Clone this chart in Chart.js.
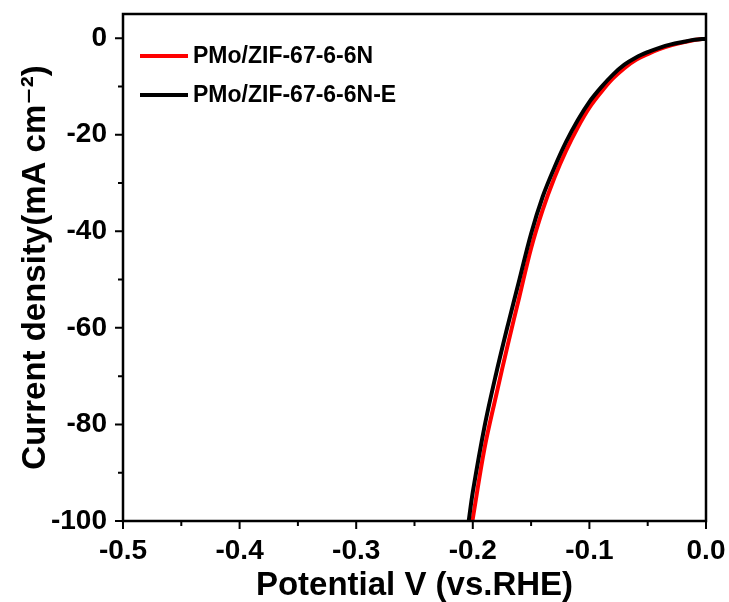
<!DOCTYPE html>
<html>
<head>
<meta charset="utf-8">
<script src="https://cdn.jsdelivr.net/npm/chart.js@4.4.1/dist/chart.umd.min.js"></script>
<style>
  html, body { margin: 0; padding: 0; background: #fff; }
</style>
</head>
<body>
<canvas id="lsvChart" width="729" height="602"></canvas>
<script>
// LSV curves, potential (V vs RHE) and current density (mA cm-2)
var potential = [0, -0.01, -0.02, -0.03, -0.04, -0.05, -0.06, -0.07, -0.08, -0.09, -0.10,
  -0.11, -0.12, -0.13, -0.14, -0.15, -0.16, -0.17, -0.18, -0.19, -0.20];
var currentN = [-0.1, -0.4, -0.9, -1.5, -2.3, -3.3, -4.5, -6.2, -8.4, -11.2, -14.4,
  -18.5, -23.3, -28.9, -35.5, -43.5, -53.5, -63.5, -74, -85, -99.5];
var currentNE = [-0.1, -0.35, -0.8, -1.3, -2.0, -2.9, -4.0, -5.5, -7.6, -10.2, -13.2,
  -17.0, -21.5, -26.8, -32.8, -40.5, -50, -59.5, -69.5, -80.5, -94];
// last points, where each curve leaves the plot at -100
var endN = [-0.2004, -100];
var endNE = [-0.2035, -100];

var labels = ["PMo/ZIF-67-6-6N", "PMo/ZIF-67-6-6N-E"];
var colors = ["#ff0000", "#000000"];

var xMajor = [-0.5, -0.4, -0.3, -0.2, -0.1, 0.0];
var xMinor = [-0.45, -0.35, -0.25, -0.15, -0.05];
var yMajor = [0, -20, -40, -60, -80, -100];
var yMinor = [-10, -30, -50, -70, -90];

var FONT = "'Liberation Sans', Arial, 'DejaVu Sans', sans-serif";

function points(xs, ys, end) {
  var out = xs.map(function (x, i) { return { x: x, y: ys[i] }; });
  out.push({ x: end[0], y: end[1] });
  return out;
}

var frameTicks = {
  id: "frameTicks",
  afterDraw: function (chart) {
    var c = chart.ctx, a = chart.chartArea;
    var xs = chart.scales.x, ys = chart.scales.y;
    c.save();
    c.strokeStyle = "#000";
    c.lineWidth = 2.5;
    c.strokeRect(a.left, a.top, a.right - a.left, a.bottom - a.top);
    c.lineWidth = 2;
    c.beginPath();
    xMajor.forEach(function (v) { var p = xs.getPixelForValue(v); c.moveTo(p, a.bottom); c.lineTo(p, a.bottom + 8); });
    xMinor.forEach(function (v) { var p = xs.getPixelForValue(v); c.moveTo(p, a.bottom); c.lineTo(p, a.bottom + 5); });
    yMajor.forEach(function (v) { var p = ys.getPixelForValue(v); c.moveTo(a.left, p); c.lineTo(a.left - 8, p); });
    yMinor.forEach(function (v) { var p = ys.getPixelForValue(v); c.moveTo(a.left, p); c.lineTo(a.left - 5, p); });
    c.stroke();

    // legend in the top-left corner of the plot
    c.font = "bold 23px " + FONT;
    c.textBaseline = "middle";
    c.fillStyle = "#000";
    chart.data.datasets.forEach(function (ds, i) {
      var y = 56 + i * 39;
      c.strokeStyle = ds.borderColor;
      c.lineWidth = 4;
      c.beginPath();
      c.moveTo(140, y);
      c.lineTo(188, y);
      c.stroke();
      c.fillText(ds.label, 193, y + 1);
    });
    c.restore();
  }
};

new Chart(document.getElementById("lsvChart"), {
  type: "scatter",
  data: {
    datasets: [
      {
        label: labels[0],
        data: points(potential, currentN, endN),
        borderColor: colors[0],
        backgroundColor: colors[0],
        showLine: true,
        borderWidth: 4,
        pointRadius: 0,
        tension: 0.35,
        order: 1
      },
      {
        label: labels[1],
        data: points(potential, currentNE, endNE),
        borderColor: colors[1],
        backgroundColor: colors[1],
        showLine: true,
        borderWidth: 4,
        pointRadius: 0,
        tension: 0.35,
        order: 0
      }
    ]
  },
  options: {
    responsive: false,
    animation: false,
    devicePixelRatio: 1,
    layout: { padding: { top: 14, right: 23, left: 0, bottom: 0 } },
    plugins: {
      legend: { display: false },
      tooltip: { enabled: false }
    },
    scales: {
      x: {
        type: "linear",
        min: -0.5,
        max: 0,
        afterFit: function (s) { s.height = 81; s.paddingLeft = 0; s.paddingRight = 0; },
        grid: { display: true, drawOnChartArea: false, color: "rgba(0,0,0,0)", tickLength: 8 },
        border: { display: false },
        ticks: {
          stepSize: 0.1,
          maxRotation: 0,
          autoSkip: false,
          padding: 5,
          color: "#000",
          font: { family: FONT, size: 28, weight: "bold" },
          callback: function (v) { return Number(v).toFixed(1); }
        },
        title: {
          display: true,
          text: "Potential V (vs.RHE)",
          color: "#000",
          font: { family: FONT, size: 33, weight: "bold", lineHeight: 1 },
          padding: { top: 0, bottom: 0 }
        }
      },
      y: {
        type: "linear",
        min: -100,
        max: 5,
        afterFit: function (s) { s.width = 123; s.paddingTop = 0; s.paddingBottom = 0; },
        grid: { display: true, drawOnChartArea: false, color: "rgba(0,0,0,0)", tickLength: 8 },
        border: { display: false },
        ticks: {
          stepSize: 20,
          includeBounds: false,
          padding: 8,
          color: "#000",
          font: { family: FONT, size: 28, weight: "bold" }
        },
        title: {
          display: true,
          text: "Current density(mA cm\u207B\u00B2)",
          color: "#000",
          font: { family: FONT, size: 33, weight: "bold", lineHeight: 1 },
          padding: { top: 19, bottom: 19 }
        }
      }
    }
  },
  plugins: [frameTicks]
});
</script>
</body>
</html>
